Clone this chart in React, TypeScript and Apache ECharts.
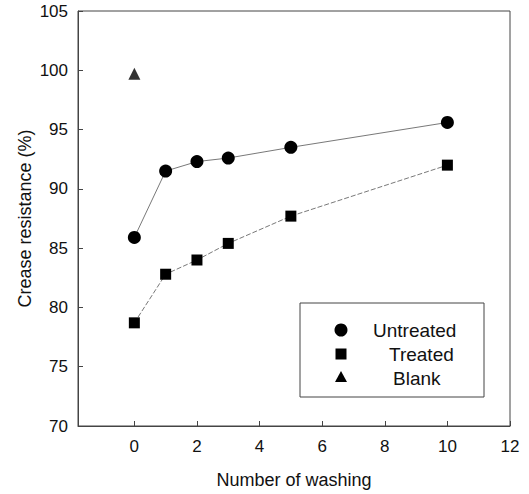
import React, { useEffect, useRef } from "react";
import * as echarts from "echarts";

const washX = [0, 1, 2, 3, 5, 10];
const untreated = [85.9, 91.5, 92.3, 92.6, 93.5, 95.6];
const treated = [78.7, 82.8, 84.0, 85.4, 87.7, 92.0];
const blankX = [0];
const blank = [99.7];
const xTicks = [0, 2, 4, 6, 8, 10, 12];
const legendNames = ["Untreated", "Treated", "Blank"];

export default function App() {
  const ref = useRef<HTMLDivElement>(null);
  useEffect(() => {
    const chart = echarts.init(ref.current!, null, { renderer: "svg" });
    const font = "Liberation Sans, Arial, sans-serif";
    const lx = 300, ly = 303, lw = 184, lh = 94;
    chart.setOption({
      animation: false,
      backgroundColor: "#fff",
      grid: { left: 78, top: 11, right: 19, bottom: 65, show: true, borderColor: "#444", borderWidth: 1 },
      xAxis: {
        type: "value", min: -1.8, max: 12,
        name: "Number of washing", nameLocation: "middle", nameGap: 45,
        nameTextStyle: { fontFamily: font, fontSize: 18, color: "#111" },
        axisLine: { show: true, onZero: false, lineStyle: { color: "#444" } },
        axisTick: { show: true, inside: true, length: 5, customValues: xTicks, lineStyle: { color: "#444" } },
        axisLabel: { customValues: xTicks, fontFamily: font, fontSize: 17, color: "#111", margin: 12 },
        splitLine: { show: false },
      },
      yAxis: {
        type: "value", min: 70, max: 105, interval: 5,
        name: "Crease resistance (%)", nameLocation: "middle", nameGap: 44, nameRotate: 90,
        nameMoveOverlap: false,
        nameTextStyle: { fontFamily: font, fontSize: 18, color: "#111" },
        axisLine: { show: true, onZero: false, lineStyle: { color: "#444" } },
        axisTick: { show: true, inside: true, length: 5, lineStyle: { color: "#444" } },
        axisLabel: { fontFamily: font, fontSize: 17, color: "#111", margin: 10 },
        splitLine: { show: false },
      },
      series: [
        {
          name: legendNames[0], type: "line", data: washX.map((x, i) => [x, untreated[i]]),
          symbol: "circle", symbolSize: 13, itemStyle: { color: "#000" },
          lineStyle: { color: "#555", width: 0.8 },
        },
        {
          name: legendNames[1], type: "line", data: washX.map((x, i) => [x, treated[i]]),
          symbol: "rect", symbolSize: 11, itemStyle: { color: "#000" },
          lineStyle: { color: "#555", width: 0.8, type: [5, 2] },
        },
        {
          name: legendNames[2], type: "scatter", data: blankX.map((x, i) => [x, blank[i]]),
          symbol: "triangle", symbolSize: 12, itemStyle: { color: "#000" },
        },
      ],
      graphic: [
        { type: "rect", shape: { x: lx, y: ly, width: lw, height: lh }, style: { fill: "#fff", stroke: "#444", lineWidth: 1 } },
        { type: "circle", shape: { cx: 341, cy: 330, r: 6.5 }, style: { fill: "#000" } },
        { type: "rect", shape: { x: 335.5, y: 348.5, width: 11, height: 11 }, style: { fill: "#000" } },
        { type: "polygon", shape: { points: [[341, 371], [347, 382], [335, 382]] }, style: { fill: "#000" } },
        { type: "text", x: 373, y: 330, style: { text: legendNames[0], fontFamily: font, fontSize: 19, fill: "#111", verticalAlign: "middle" } },
        { type: "text", x: 389, y: 354, style: { text: legendNames[1], fontFamily: font, fontSize: 19, fill: "#111", verticalAlign: "middle" } },
        { type: "text", x: 393, y: 378, style: { text: legendNames[2], fontFamily: font, fontSize: 19, fill: "#111", verticalAlign: "middle" } },
      ],
    });
    return () => chart.dispose();
  }, []);
  return <div ref={ref} style={{ width: 529, height: 494, position: "absolute", left: 0, top: 0 }} />;
}
